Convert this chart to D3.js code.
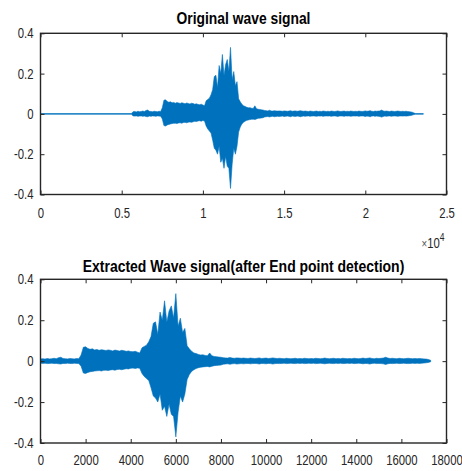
<!DOCTYPE html>
<meta charset="utf-8">
<head>
  <title>Wave signal</title>
  <script src="https://d3js.org/d3.v7.min.js"></script>
  <style>
    body { margin: 0; background: #fff; }
    text { font-family: "Liberation Sans", Arial, sans-serif; fill: #262626; }
    .title { font-weight: bold; font-size: 17px; fill: #000; }
    .tick text { font-size: 14px; fill: #262626; }
    .tick line { stroke: #262626; stroke-width: 1; }
    .box { fill: none; stroke: #262626; stroke-width: 1.4px; }
    .wave { fill: #0072BD; stroke: #0072BD; stroke-width: 0.6px; }
  </style>
</head>
<body>
<script>

// envelope of the extracted signal, one max/min pair per 100 samples
var step = 100;
var extUpper = [
  0.011,0.012,0.010,0.013,0.011,0.012,0.014,0.012,0.017,0.019,0.013,0.012,0.011,0.013,0.012,0.011,0.013,0.012,
  0.030,0.068,
  0.070,0.062,0.058,0.060,0.055,0.057,0.053,0.056,0.054,0.052,0.055,0.053,0.050,0.054,0.052,0.049,0.053,0.051,0.048,0.050,0.047,0.046,0.048,0.044,0.040,
  0.065,0.072,0.078,0.095,
  0.12,0.185,0.192,0.13,0.24,0.20,0.295,0.19,0.245,0.27,0.21,0.33,0.17,0.21,0.14,0.16,
  0.075,0.06,0.048,0.040,0.037,
  0.033,0.030,0.031,0.028,0.027,
  0.040,
  0.026,0.023,0.022,0.020,0.019,
  0.017,0.016,0.015,0.018,0.015,0.014,0.016,0.015,0.014,0.015,
  0.014,0.013,0.015,0.014,0.013,0.014,0.016,0.013,0.014,0.015,
  0.013,0.014,0.016,0.014,0.013,0.014,0.013,0.012,0.014,0.013,
  0.012,0.013,0.014,0.012,0.013,0.012,0.014,0.013,0.012,0.013,
  0.012,0.014,0.013,0.012,0.013,0.015,0.013,0.012,0.013,0.014,
  0.012,0.013,0.012,0.014,0.013,0.012,0.013,0.012,0.014,0.013,
  0.012,0.013,0.015,0.013,0.014,0.016,0.013,0.012,0.014,0.013,
  0.014,0.015,0.019,0.015,0.013,0.014,0.013,0.012,0.014,0.013,
  0.012,0.013,0.014,0.013,0.012,0.013,0.012,0.013,0.012,0.011,
  0.010,0.008,0.004
];
var extLower = [
  -0.010,-0.011,-0.010,-0.012,-0.011,-0.010,-0.012,-0.011,-0.013,-0.014,-0.011,-0.012,-0.010,-0.011,-0.012,-0.010,-0.011,-0.012,
  -0.025,-0.058,
  -0.060,-0.055,-0.052,-0.050,-0.048,-0.047,-0.046,-0.048,-0.045,-0.044,-0.046,-0.043,-0.042,-0.044,-0.041,-0.040,-0.042,-0.039,-0.037,-0.038,-0.035,-0.034,-0.036,-0.033,-0.035,
  -0.06,-0.075,-0.085,-0.095,
  -0.13,-0.17,-0.18,-0.20,-0.16,-0.24,-0.22,-0.27,-0.21,-0.26,-0.27,-0.37,-0.25,-0.17,-0.20,-0.16,
  -0.09,-0.065,-0.05,-0.042,-0.036,
  -0.032,-0.030,-0.028,-0.027,-0.026,
  -0.028,
  -0.025,-0.022,-0.021,-0.020,-0.019,
  -0.015,-0.014,-0.013,-0.015,-0.013,-0.012,-0.014,-0.013,-0.012,-0.013,
  -0.012,-0.011,-0.013,-0.012,-0.011,-0.012,-0.014,-0.011,-0.012,-0.013,
  -0.011,-0.012,-0.014,-0.012,-0.011,-0.012,-0.011,-0.010,-0.012,-0.011,
  -0.010,-0.011,-0.012,-0.010,-0.011,-0.010,-0.012,-0.011,-0.010,-0.011,
  -0.010,-0.012,-0.011,-0.010,-0.011,-0.013,-0.011,-0.010,-0.011,-0.012,
  -0.010,-0.011,-0.010,-0.012,-0.011,-0.010,-0.011,-0.010,-0.012,-0.011,
  -0.010,-0.011,-0.013,-0.011,-0.012,-0.014,-0.011,-0.010,-0.012,-0.011,
  -0.012,-0.013,-0.016,-0.013,-0.011,-0.012,-0.011,-0.010,-0.012,-0.011,
  -0.010,-0.011,-0.012,-0.011,-0.010,-0.011,-0.010,-0.011,-0.010,-0.009,
  -0.008,-0.006,-0.003
];

// where the extracted part sits inside the original recording
var extOffset = 5700;
var leadSamples = [0, 5600], leadUpper = [0.002, 0.002], leadLower = [-0.002, -0.002];
var tailSamples = [23100, 23570], tailUpper = [0.002, 0.002], tailLower = [-0.002, -0.002];

var yTicks = [-0.4, -0.2, 0, 0.2, 0.4];
var topXTicks = [0, 5000, 10000, 15000, 20000, 25000];
var botXTicks = [0, 2000, 4000, 6000, 8000, 10000, 12000, 14000, 16000, 18000];

// no narrow face installed, so squeeze the regular one
var squeeze = 0.81;

var extracted = extUpper.map(function(u, i) {
  return {s: i * step, hi: u, lo: extLower[i]};
});
var original = leadSamples.map(function(s, i) { return {s: s, hi: leadUpper[i], lo: leadLower[i]}; })
  .concat(extracted.map(function(d) { return {s: d.s + extOffset, hi: d.hi, lo: d.lo}; }))
  .concat(tailSamples.map(function(s, i) { return {s: s, hi: tailUpper[i], lo: tailLower[i]}; }));

var svg = d3.select("body").append("svg")
    .attr("width", 462)
    .attr("height", 471);

function panel(cfg) {
  var x = d3.scaleLinear().domain(cfg.xDomain).range([40.5, 446.5]);
  var y = d3.scaleLinear().domain([-0.4, 0.4]).range([cfg.bottom, cfg.top]);
  var g = svg.append("g");

  g.append("clipPath").attr("id", cfg.id)
    .append("rect")
      .attr("x", x.range()[0]).attr("y", cfg.top)
      .attr("width", x.range()[1] - x.range()[0]).attr("height", cfg.bottom - cfg.top);

  var area = d3.area()
      .x(function(d) { return x(d.s); })
      .y0(function(d) { return y(d.lo); })
      .y1(function(d) { return y(d.hi); });

  g.append("path")
      .datum(cfg.data)
      .attr("class", "wave")
      .attr("clip-path", "url(#" + cfg.id + ")")
      .attr("d", area);

  var fmtY = function(d) { return d === 0 ? "0" : String(d); };

  g.append("g").attr("transform", "translate(0," + cfg.bottom + ")")
    .call(d3.axisBottom(x).tickValues(cfg.xTicks).tickFormat(cfg.xFormat)
      .tickSizeInner(-4).tickSizeOuter(0).tickPadding(cfg.xPad))
    .selectAll(".tick text").attr("transform", "scale(" + squeeze + ",1)");
  g.append("g").attr("transform", "translate(0," + cfg.top + ")")
    .call(d3.axisTop(x).tickValues(cfg.xTicks).tickFormat("")
      .tickSizeInner(-4).tickSizeOuter(0));
  g.append("g").attr("transform", "translate(" + x.range()[0] + ",0)")
    .call(d3.axisLeft(y).tickValues(yTicks).tickFormat(fmtY)
      .tickSizeInner(-4).tickSizeOuter(0).tickPadding(7))
    .selectAll(".tick text")
      .attr("x", -7 / squeeze)
      .attr("transform", "scale(" + squeeze + ",1)");
  g.append("g").attr("transform", "translate(" + x.range()[1] + ",0)")
    .call(d3.axisRight(y).tickValues(yTicks).tickFormat("")
      .tickSizeInner(-4).tickSizeOuter(0));
  g.selectAll(".domain").remove();
  g.selectAll(".tick text").attr("fill", "#262626");

  g.append("rect")
      .attr("class", "box")
      .attr("x", x.range()[0]).attr("y", cfg.top)
      .attr("width", x.range()[1] - x.range()[0]).attr("height", cfg.bottom - cfg.top);

  // squeeze the title to the width it takes in the figure
  var title = g.append("text")
      .attr("class", "title")
      .attr("text-anchor", "middle")
      .text(cfg.title);
  var k = cfg.titleW / title.node().getComputedTextLength();
  title.attr("transform", "translate(" + (x.range()[0] + x.range()[1]) / 2 + "," + cfg.titleY + ") scale(" + k + ",1)");
}

panel({
  id: "clipTop", data: original, xDomain: [0, 25000], xTicks: topXTicks,
  xFormat: function(d) { return String(d / 1e4); }, xPad: 13.5,
  top: 33.3, bottom: 194.5, title: "Original wave signal",
  titleY: 24, titleW: 134
});

panel({
  id: "clipBot", data: extracted, xDomain: [0, 18000], xTicks: botXTicks,
  xFormat: function(d) { return String(d); }, xPad: 12.3,
  top: 279.3, bottom: 443, title: "Extracted Wave signal(after End point detection)",
  titleY: 271.7, titleW: 322
});

// exponent note of the top x axis
var expo = svg.append("text")
    .attr("transform", "translate(444.5,247.7) scale(" + squeeze + ",1)")
    .attr("text-anchor", "end");
expo.append("tspan").attr("font-size", 12).attr("fill", "#555").text("\u00d7");
expo.append("tspan").attr("font-size", 14).text("10");
expo.append("tspan").attr("font-size", 10.5).attr("dy", -7).text("4");

</script>
</body>
